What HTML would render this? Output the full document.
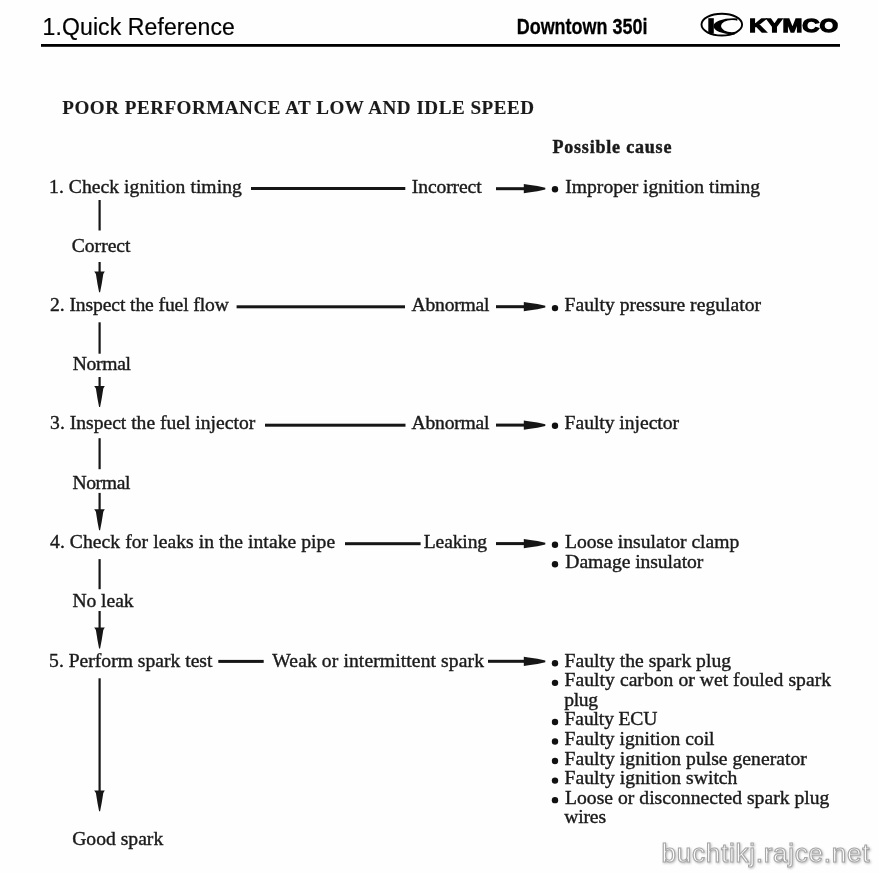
<!DOCTYPE html>
<html><head><meta charset="utf-8"><style>
html,body{margin:0;padding:0;background:#fff;}
svg{display:block;will-change:transform}
</style></head><body>
<svg width="879" height="873" viewBox="0 0 879 873">
<rect width="879" height="873" fill="#fefefe"/>
<rect x="41" y="44" width="799" height="2.8" fill="#000"/>
<ellipse cx="721.8" cy="24.6" rx="20.3" ry="10.9" fill="none" stroke="#000" stroke-width="1.9"/>
<rect x="708.3" y="18.2" width="5.5" height="15.4" fill="#000"/>
<clipPath id="kc"><polygon points="700,10 739,10 734,40 700,40"/></clipPath>
<path clip-path="url(#kc)" fill-rule="evenodd" d="M713.5,26.3 a20,8.1 0 1 0 40,0 a20,8.1 0 1 0 -40,0 Z M721,26.1 a11,6.1 0 1 0 22,0 a11,6.1 0 1 0 -22,0 Z" fill="#000"/>
<rect x="251" y="187.0" width="154.3" height="3" fill="#161616"/>
<rect x="236.6" y="305.3" width="168.4" height="3" fill="#161616"/>
<rect x="265" y="423.7" width="140.5" height="3" fill="#161616"/>
<rect x="345" y="542.2" width="75.6" height="3" fill="#161616"/>
<rect x="218.3" y="659.9" width="45.4" height="3" fill="#161616"/>
<rect x="496" y="187.2" width="28.5" height="3" fill="#161616"/>
<path d="M523.8,184.1 L528.5,184.8 Q538,185.8 545.3,187.8 L545.3,189.6 Q538,191.6 528.5,192.6 L523.8,193.3 Z" fill="#161616"/>
<rect x="496" y="305.2" width="28.5" height="3" fill="#161616"/>
<path d="M523.8,302.1 L528.5,302.8 Q538,303.8 545.3,305.8 L545.3,307.6 Q538,309.6 528.5,310.6 L523.8,311.3 Z" fill="#161616"/>
<rect x="496" y="423.6" width="28.5" height="3" fill="#161616"/>
<path d="M523.8,420.5 L528.5,421.2 Q538,422.2 545.3,424.2 L545.3,426.0 Q538,428.0 528.5,429.0 L523.8,429.7 Z" fill="#161616"/>
<rect x="496" y="542.1" width="28.5" height="3" fill="#161616"/>
<path d="M523.8,539.0 L528.5,539.7 Q538,540.7 545.3,542.7 L545.3,544.5 Q538,546.5 528.5,547.5 L523.8,548.2 Z" fill="#161616"/>
<rect x="488" y="659.8" width="36.5" height="3" fill="#161616"/>
<path d="M523.8,656.7 L528.5,657.4 Q538,658.4 545.3,660.4 L545.3,662.2 Q538,664.2 528.5,665.2 L523.8,665.9 Z" fill="#161616"/>
<circle cx="555" cy="189.3" r="3.2" fill="#111"/>
<circle cx="555" cy="308.1" r="3.2" fill="#111"/>
<circle cx="555" cy="425.8" r="3.2" fill="#111"/>
<circle cx="555" cy="544.8" r="3.2" fill="#111"/>
<circle cx="555" cy="564.3" r="3.2" fill="#111"/>
<circle cx="555" cy="663.3" r="3.2" fill="#111"/>
<circle cx="555" cy="682.85" r="3.2" fill="#111"/>
<circle cx="555" cy="721.95" r="3.2" fill="#111"/>
<circle cx="555" cy="741.5" r="3.2" fill="#111"/>
<circle cx="555" cy="761.05" r="3.2" fill="#111"/>
<circle cx="555" cy="780.6" r="3.2" fill="#111"/>
<circle cx="555" cy="800.15" r="3.2" fill="#111"/>
<rect x="98.5" y="200" width="2.2" height="30.5" fill="#161616"/>
<rect x="98.5" y="322.3" width="2.2" height="31.4" fill="#161616"/>
<rect x="98.5" y="438.2" width="2.2" height="31.0" fill="#161616"/>
<rect x="98.5" y="559.1" width="2.2" height="30.1" fill="#161616"/>
<rect x="98.5" y="262" width="2.2" height="10.4" fill="#161616"/>
<path d="M94.2,271.4 L104.8,271.4 L103.3,273.9 Q101.8,284.3 100.1,292.3 L99.1,292.3 Q97.4,284.3 95.9,273.9 Z" fill="#161616"/>
<rect x="98.5" y="377" width="2.2" height="10" fill="#161616"/>
<path d="M94.2,386 L104.8,386 L103.3,388.5 Q101.8,399 100.1,407 L99.1,407 Q97.4,399 95.9,388.5 Z" fill="#161616"/>
<rect x="98.5" y="492.9" width="2.2" height="17.4" fill="#161616"/>
<path d="M94.2,509.3 L104.8,509.3 L103.3,511.8 Q101.8,522.2 100.1,530.2 L99.1,530.2 Q97.4,522.2 95.9,511.8 Z" fill="#161616"/>
<rect x="98.5" y="611" width="2.2" height="17.5" fill="#161616"/>
<path d="M94.2,627.5 L104.8,627.5 L103.3,630.0 Q101.8,640.4 100.1,648.4 L99.1,648.4 Q97.4,640.4 95.9,630.0 Z" fill="#161616"/>
<rect x="98.5" y="678.3" width="2.2" height="113.3" fill="#161616"/>
<path d="M94.2,790.6 L104.8,790.6 L103.3,793.1 Q101.8,803.3 100.1,811.3 L99.1,811.3 Q97.4,803.3 95.9,793.1 Z" fill="#161616"/>
<text id="h1" x="42.60" y="35.20" font-family="&quot;Liberation Sans&quot;, sans-serif" font-size="23" font-weight="normal" fill="#000" textLength="192.19" lengthAdjust="spacing" stroke="#000" stroke-width="0.2">1.Quick Reference</text>
<text id="h2" x="516.70" y="34.40" font-family="&quot;Liberation Sans&quot;, sans-serif" font-size="22.5" font-weight="bold" fill="#000" textLength="130.75" lengthAdjust="spacingAndGlyphs" stroke="#000" stroke-width="0.3">Downtown 350i</text>
<text id="h3" x="749.30" y="31.60" font-family="&quot;Liberation Sans&quot;, sans-serif" font-size="19.2" font-weight="bold" fill="#000" textLength="88.82" lengthAdjust="spacingAndGlyphs" stroke="#000" stroke-width="1.3">KYMCO</text>
<text id="title" x="62.30" y="114.00" font-family="&quot;Liberation Serif&quot;, serif" font-size="19.1" font-weight="bold" fill="#1a1a1a" textLength="471.69" lengthAdjust="spacing" stroke="#1a1a1a" stroke-width="0.1">POOR PERFORMANCE AT LOW AND IDLE SPEED</text>
<text id="pc" x="552.40" y="152.60" font-family="&quot;Liberation Serif&quot;, serif" font-size="18" font-weight="bold" fill="#1a1a1a" textLength="118.99" lengthAdjust="spacing" stroke="#1a1a1a" stroke-width="0.45">Possible cause</text>
<text id="r1l" x="49.10" y="192.70" font-family="&quot;Liberation Serif&quot;, serif" font-size="19.6" font-weight="normal" fill="#1a1a1a" textLength="192.70" lengthAdjust="spacing" stroke="#1a1a1a" stroke-width="0.4">1. Check ignition timing</text>
<text id="r2l" x="50.10" y="311.40" font-family="&quot;Liberation Serif&quot;, serif" font-size="19.6" font-weight="normal" fill="#1a1a1a" textLength="178.85" lengthAdjust="spacing" stroke="#1a1a1a" stroke-width="0.4">2. Inspect the fuel flow</text>
<text id="r3l" x="50.10" y="429.10" font-family="&quot;Liberation Serif&quot;, serif" font-size="19.6" font-weight="normal" fill="#1a1a1a" textLength="205.12" lengthAdjust="spacing" stroke="#1a1a1a" stroke-width="0.4">3. Inspect the fuel injector</text>
<text id="r4l" x="50.10" y="548.00" font-family="&quot;Liberation Serif&quot;, serif" font-size="19.6" font-weight="normal" fill="#1a1a1a" textLength="285.00" lengthAdjust="spacing" stroke="#1a1a1a" stroke-width="0.4">4. Check for leaks in the intake pipe</text>
<text id="r5l" x="49.10" y="666.50" font-family="&quot;Liberation Serif&quot;, serif" font-size="19.6" font-weight="normal" fill="#1a1a1a" textLength="163.34" lengthAdjust="spacing" stroke="#1a1a1a" stroke-width="0.4">5. Perform spark test</text>
<text id="r1m" x="411.80" y="192.70" font-family="&quot;Liberation Serif&quot;, serif" font-size="19.6" font-weight="normal" fill="#1a1a1a" textLength="69.84" lengthAdjust="spacing" stroke="#1a1a1a" stroke-width="0.4">Incorrect</text>
<text id="r2m" x="411.60" y="311.40" font-family="&quot;Liberation Serif&quot;, serif" font-size="19.6" font-weight="normal" fill="#1a1a1a" textLength="77.94" lengthAdjust="spacing" stroke="#1a1a1a" stroke-width="0.4">Abnormal</text>
<text id="r3m" x="411.60" y="429.10" font-family="&quot;Liberation Serif&quot;, serif" font-size="19.6" font-weight="normal" fill="#1a1a1a" textLength="77.94" lengthAdjust="spacing" stroke="#1a1a1a" stroke-width="0.4">Abnormal</text>
<text id="r4m" x="423.80" y="547.60" font-family="&quot;Liberation Serif&quot;, serif" font-size="19.6" font-weight="normal" fill="#1a1a1a" textLength="63.30" lengthAdjust="spacing" stroke="#1a1a1a" stroke-width="0.4">Leaking</text>
<text id="r5m" x="272.30" y="666.50" font-family="&quot;Liberation Serif&quot;, serif" font-size="19.6" font-weight="normal" fill="#1a1a1a" textLength="211.70" lengthAdjust="spacing" stroke="#1a1a1a" stroke-width="0.4">Weak or intermittent spark</text>
<text id="l1" x="71.80" y="252.10" font-family="&quot;Liberation Serif&quot;, serif" font-size="19.6" font-weight="normal" fill="#1a1a1a" textLength="58.64" lengthAdjust="spacing" stroke="#1a1a1a" stroke-width="0.4">Correct</text>
<text id="l2" x="72.80" y="370.20" font-family="&quot;Liberation Serif&quot;, serif" font-size="19.6" font-weight="normal" fill="#1a1a1a" textLength="58.14" lengthAdjust="spacing" stroke="#1a1a1a" stroke-width="0.4">Normal</text>
<text id="l3" x="72.40" y="489.20" font-family="&quot;Liberation Serif&quot;, serif" font-size="19.6" font-weight="normal" fill="#1a1a1a" textLength="58.04" lengthAdjust="spacing" stroke="#1a1a1a" stroke-width="0.4">Normal</text>
<text id="l4" x="72.40" y="606.50" font-family="&quot;Liberation Serif&quot;, serif" font-size="19.6" font-weight="normal" fill="#1a1a1a" textLength="61.20" lengthAdjust="spacing" stroke="#1a1a1a" stroke-width="0.4">No leak</text>
<text id="l5" x="72.20" y="844.50" font-family="&quot;Liberation Serif&quot;, serif" font-size="19.6" font-weight="normal" fill="#1a1a1a" textLength="91.00" lengthAdjust="spacing" stroke="#1a1a1a" stroke-width="0.4">Good spark</text>
<text id="c1" x="565.30" y="192.70" font-family="&quot;Liberation Serif&quot;, serif" font-size="19.6" font-weight="normal" fill="#1a1a1a" textLength="194.80" lengthAdjust="spacing" stroke="#1a1a1a" stroke-width="0.4">Improper ignition timing</text>
<text id="c2" x="564.60" y="311.40" font-family="&quot;Liberation Serif&quot;, serif" font-size="19.6" font-weight="normal" fill="#1a1a1a" textLength="196.42" lengthAdjust="spacing" stroke="#1a1a1a" stroke-width="0.4">Faulty pressure regulator</text>
<text id="c3" x="564.60" y="429.10" font-family="&quot;Liberation Serif&quot;, serif" font-size="19.6" font-weight="normal" fill="#1a1a1a" textLength="114.42" lengthAdjust="spacing" stroke="#1a1a1a" stroke-width="0.4">Faulty injector</text>
<text id="c4a" x="565.00" y="548.20" font-family="&quot;Liberation Serif&quot;, serif" font-size="19.6" font-weight="normal" fill="#1a1a1a" textLength="174.30" lengthAdjust="spacing" stroke="#1a1a1a" stroke-width="0.4">Loose insulator clamp</text>
<text id="c4b" x="565.30" y="567.70" font-family="&quot;Liberation Serif&quot;, serif" font-size="19.6" font-weight="normal" fill="#1a1a1a" textLength="138.02" lengthAdjust="spacing" stroke="#1a1a1a" stroke-width="0.4">Damage insulator</text>
<text id="c5_0" x="564.60" y="666.80" font-family="&quot;Liberation Serif&quot;, serif" font-size="19.6" font-weight="normal" fill="#1a1a1a" textLength="166.40" lengthAdjust="spacing" stroke="#1a1a1a" stroke-width="0.4">Faulty the spark plug</text>
<text id="c5_1" x="564.60" y="686.35" font-family="&quot;Liberation Serif&quot;, serif" font-size="19.6" font-weight="normal" fill="#1a1a1a" textLength="266.40" lengthAdjust="spacing" stroke="#1a1a1a" stroke-width="0.4">Faulty carbon or wet fouled spark</text>
<text id="c5_2" x="564.30" y="705.90" font-family="&quot;Liberation Serif&quot;, serif" font-size="19.6" font-weight="normal" fill="#1a1a1a" textLength="33.80" lengthAdjust="spacing" stroke="#1a1a1a" stroke-width="0.4">plug</text>
<text id="c5_3" x="564.60" y="725.45" font-family="&quot;Liberation Serif&quot;, serif" font-size="19.6" font-weight="normal" fill="#1a1a1a" textLength="92.85" lengthAdjust="spacing" stroke="#1a1a1a" stroke-width="0.4">Faulty ECU</text>
<text id="c5_4" x="564.60" y="745.00" font-family="&quot;Liberation Serif&quot;, serif" font-size="19.6" font-weight="normal" fill="#1a1a1a" textLength="149.94" lengthAdjust="spacing" stroke="#1a1a1a" stroke-width="0.4">Faulty ignition coil</text>
<text id="c5_5" x="564.60" y="764.55" font-family="&quot;Liberation Serif&quot;, serif" font-size="19.6" font-weight="normal" fill="#1a1a1a" textLength="242.22" lengthAdjust="spacing" stroke="#1a1a1a" stroke-width="0.4">Faulty ignition pulse generator</text>
<text id="c5_6" x="564.60" y="784.10" font-family="&quot;Liberation Serif&quot;, serif" font-size="19.6" font-weight="normal" fill="#1a1a1a" textLength="172.80" lengthAdjust="spacing" stroke="#1a1a1a" stroke-width="0.4">Faulty ignition switch</text>
<text id="c5_7" x="565.00" y="803.65" font-family="&quot;Liberation Serif&quot;, serif" font-size="19.6" font-weight="normal" fill="#1a1a1a" textLength="264.40" lengthAdjust="spacing" stroke="#1a1a1a" stroke-width="0.4">Loose or disconnected spark plug</text>
<text id="c5_8" x="564.20" y="823.20" font-family="&quot;Liberation Serif&quot;, serif" font-size="19.6" font-weight="normal" fill="#1a1a1a" textLength="41.83" lengthAdjust="spacing" stroke="#1a1a1a" stroke-width="0.4">wires</text>
<text x="661.5" y="862.3" font-family="&quot;Liberation Sans&quot;, sans-serif" font-size="26" textLength="208" lengthAdjust="spacing" fill="#fff" stroke="#a6a6a6" stroke-width="1.1" style="filter:drop-shadow(1px 1.2px 1px rgba(0,0,0,.25))">buchtikj.rajce.net</text>
</svg>
</body></html>
